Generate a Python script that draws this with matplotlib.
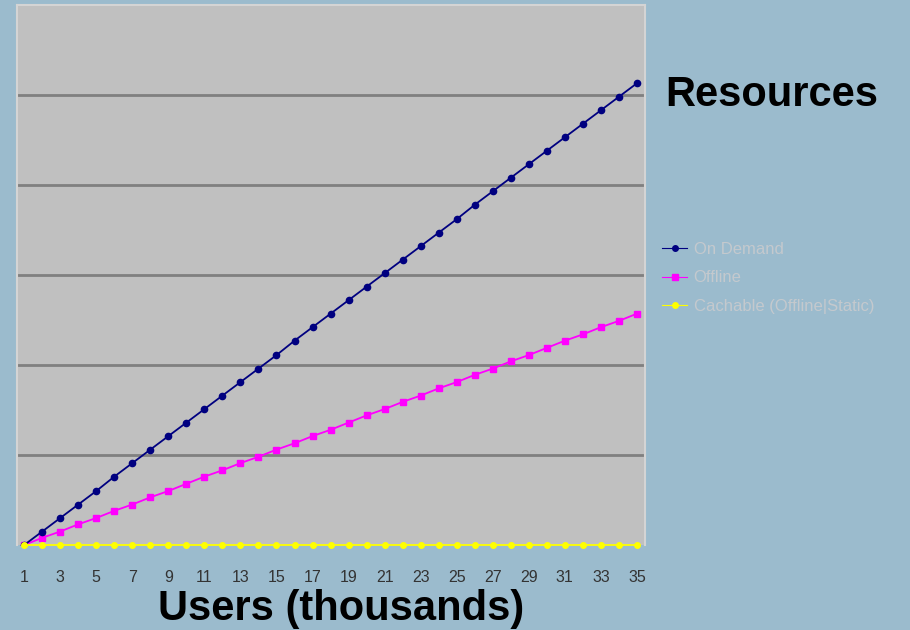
import matplotlib
matplotlib.use("Agg")
import matplotlib.pyplot as plt

users = list(range(1, 36))
on_demand = [0, 0.15, 0.30, 0.45, 0.60, 0.76, 0.91, 1.06, 1.21, 1.36, 1.51, 1.66,
             1.81, 1.96, 2.11, 2.27, 2.42, 2.57, 2.72, 2.87, 3.02, 3.17, 3.32, 3.47,
             3.62, 3.78, 3.93, 4.08, 4.23, 4.38, 4.53, 4.68, 4.83, 4.98, 5.13]
offline = [0, 0.08, 0.15, 0.23, 0.30, 0.38, 0.45, 0.53, 0.60, 0.68, 0.76, 0.83,
           0.91, 0.98, 1.06, 1.13, 1.21, 1.28, 1.36, 1.44, 1.51, 1.59, 1.66, 1.74,
           1.81, 1.89, 1.96, 2.04, 2.11, 2.19, 2.27, 2.34, 2.42, 2.49, 2.57]
cachable = [0] * 35
tick_labels = [str(u) for u in range(1, 36, 2)]
series_names = ["On Demand", "Offline", "Cachable (Offline|Static)"]

plt.rcParams['font.family'] = ['Liberation Sans', 'DejaVu Sans']

fig = plt.figure(figsize=(9.1, 6.3), dpi=100, facecolor="#9bbbcd")
ax = fig.add_axes([17/910, 85/630, 628/910, 540/630])
ax.set_facecolor("#c0c0c0")

for y in range(1, 6):
    ax.axhline(y, color="#808080", lw=2, zorder=1)

ax.plot(users, on_demand, color="#000080", lw=1.3, marker="o", ms=4.5,
        label=series_names[0], zorder=4)
ax.plot(users, offline, color="#ff00ff", lw=1.3, marker="s", ms=5,
        label=series_names[1], zorder=3)
ax.plot(users, cachable, color="#ffff00", lw=1.3, marker="o", ms=4,
        label=series_names[2], zorder=5, clip_on=False)

ax.set_xlim(0.6, 35.45)
ax.set_ylim(0, 6)
ax.set_yticks([])
ax.set_xticks(range(1, 36, 2))
ax.set_xticklabels(tick_labels, fontsize=11.5, color="#333333")
ax.tick_params(axis="x", length=0, pad=18)
for s in ["top", "left", "right"]:
    ax.spines[s].set_color("#d4d4d4")
    ax.spines[s].set_linewidth(1.5)
ax.spines["bottom"].set_visible(False)

fig.text(341/910, 1 - 609/630, "Users (thousands)", fontsize=30, fontweight="bold",
         ha="center", va="center", color="black")
fig.text(772/910, 1 - 95/630, "Resources", fontsize=30, fontweight="bold",
         ha="center", va="center", color="black")

leg = fig.legend(loc="upper left", bbox_to_anchor=(662/910, 1 - 242/630),
                 frameon=False, fontsize=12, handlelength=1.5,
                 labelspacing=0.8, handletextpad=0.4, borderaxespad=0, borderpad=0)
for t in leg.get_texts():
    t.set_color("#c4c9cd")
for h in leg.legend_handles:
    h.set_linewidth(0.8)
    h.set_markersize(4)

fig.savefig("out.png", dpi=100, facecolor=fig.get_facecolor())
